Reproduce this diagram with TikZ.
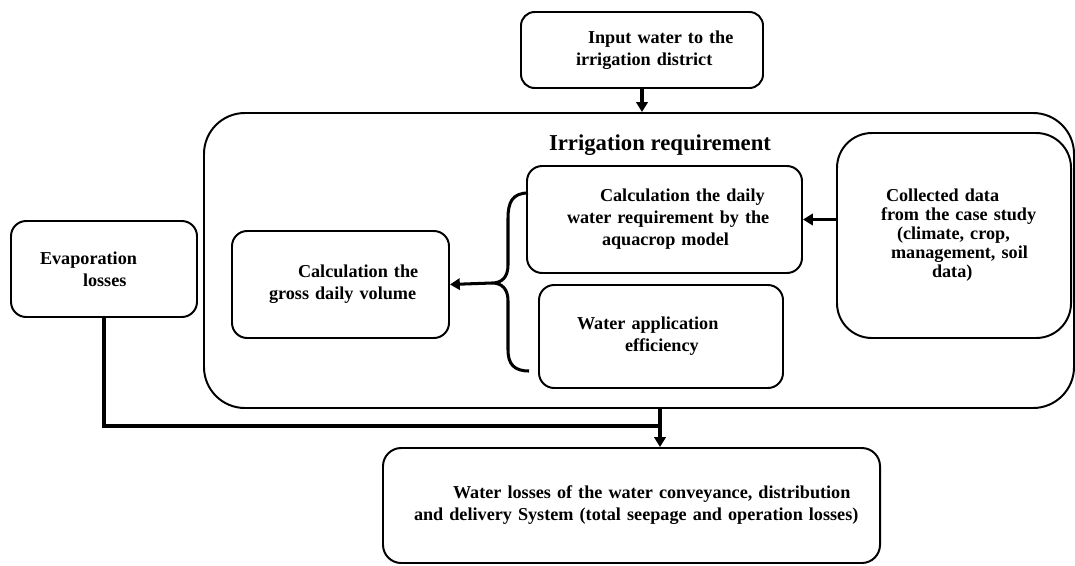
\documentclass[tikz,border=0pt]{standalone}
\usepackage{fontspec}
\setmainfont{Liberation Serif}
\usetikzlibrary{arrows.meta}
\newdimen\pxu
\pxu=0.66pt
\newcommand{\ind}[1]{\hspace*{#1\pxu}}
\begin{document}
\begin{tikzpicture}[x=0.66pt,y=-0.66pt,
  box/.style={draw,line width=1.3pt,rectangle,inner xsep=0pt,inner ysep=0pt,
    align=left,font=\bfseries\fontsize{12}{14.5}\selectfont},
  conn/.style={line width=2pt},
  arr/.style={line width=2pt,-{Triangle[length=6.5pt,width=7.5pt]}}]
\useasboundingbox (0,0) rectangle (1075,565);
% container
\node[draw,line width=1.3pt,rounded corners=27pt,minimum width=870\pxu,minimum height=295\pxu,inner sep=0pt] (cont) at (639,260.5) {};
\node[font=\bfseries\fontsize{15}{18}\selectfont,inner sep=0pt] (title) at (660,145) {Irrigation requirement};
% boxes
\node[box,rounded corners=9pt,text width=242\pxu,minimum height=76\pxu] (inp) at (642,50)
  {\ind{67}Input water to the\\\ind{55}irrigation district};
\node[box,rounded corners=10pt,text width=275\pxu,minimum height=107\pxu] (calc) at (664.5,219.5)
  {\ind{73}Calculation the daily\\\ind{40}water requirement by the\\\ind{75}aquacrop model};
\node[box,rounded corners=10pt,text width=244\pxu,minimum height=103\pxu] (wapp) at (661,336.5)
  {\ind{38}Water application\\\ind{86}efficiency};
\node[box,rounded corners=10pt,text width=217\pxu,minimum height=107\pxu] (gross) at (340.5,284.5)
  {\ind{66}Calculation the\\\ind{37}gross daily volume};
\node[box,rounded corners=10pt,text width=186\pxu,minimum height=96\pxu] (evap) at (104,269)
  {\ind{29}Evaporation\\\ind{72}losses};
\node[box,rounded corners=23pt,text width=234\pxu,minimum height=205\pxu,font=\bfseries\fontsize{12}{12.5}\selectfont] (coll) at (954,235.5)
  {\ind{49}Collected data\\\ind{44}from the case study\\\ind{60}(climate, crop,\\\ind{54}management, soil\\\ind{95}data)};
\node[box,rounded corners=12pt,text width=497\pxu,minimum height=115\pxu] (wl) at (631.5,505.5)
  {\ind{70}Water losses of the water conveyance, distribution\\\ind{31}and delivery System (total seepage and operation losses)};
% connectors
\draw[arr] (inp.south) -- (inp.south |- cont.north);
\draw[arr] (coll.west |- calc.east) -- (calc.east);
\coordinate (brtop) at (528,193);
\coordinate (brtip) at (492,283);
\coordinate (brbot) at (529,371);
\draw[conn] (brtop) .. controls (512,193) and (508,203) .. (508,218) -- (508,265)
  .. controls (508,277) and (502,283) .. (brtip)
  .. controls (502,283) and (508,289) .. (508,301) -- (508,350)
  .. controls (508,364) and (514,371) .. (brbot);
\draw[arr] (brtip) -- (gross.east);
\coordinate (j) at (660,426);
\draw[arr] (cont.south -| j) -- (wl.north -| j);
\draw[conn] (evap.south) -- (evap.south |- j) -- (j);
\end{tikzpicture}
\end{document}
